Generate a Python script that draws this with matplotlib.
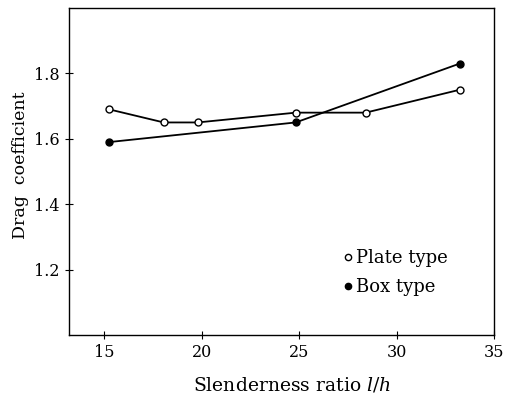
import matplotlib
matplotlib.use("Agg")
import matplotlib.pyplot as plt

plate_x = [15.26, 18.06, 19.8, 24.83, 28.42, 33.24]
plate_y = [1.69, 1.65, 1.65, 1.68, 1.68, 1.75]
box_x = [15.26, 24.83, 33.24]
box_y = [1.59, 1.65, 1.83]
xticks = [15, 20, 25, 30, 35]
yticks = [1.2, 1.4, 1.6, 1.8]

plt.rcParams['font.family'] = ['DejaVu Serif']
plt.rcParams['mathtext.fontset'] = 'dejavuserif'

fig = plt.figure(figsize=(5.07, 3.95), dpi=100)
ax = fig.add_axes([69/507, 1-335/395, (494-69)/507, (335-8)/395])

ax.plot(plate_x, plate_y, '-', color='black', lw=1.3, marker='o', ms=5,
        mfc='white', mec='black', mew=1.0, label='Plate type', zorder=3)
ax.plot(box_x, box_y, '-', color='black', lw=1.3, marker='o', ms=5,
        mfc='black', mec='black', label='Box type', zorder=3)

ax.set_xlim(13.2, 35)
ax.set_ylim(1.0, 2.0)
ax.set_xticks(xticks)
ax.set_yticks(yticks)
ax.set_yticklabels([f"{v:.1f}" for v in yticks])
ax.tick_params(direction='inout', length=6, width=0.8, labelsize=11.5)
for s in ax.spines.values():
    s.set_linewidth(1.0)

ax.set_xlabel('Slenderness ratio $l/h$', fontsize=13.5)
ax.xaxis.set_label_coords(0.525, -0.125)
ax.set_ylabel('Drag  coefficient', fontsize=12.5)
ax.yaxis.set_label_coords(-0.095, 0.52)

ax.legend(loc='center left', bbox_to_anchor=(0.635, 0.19), frameon=False,
          borderpad=0, handlelength=0, handletextpad=0.45, fontsize=13,
          labelspacing=0.6, markerscale=0.9)

fig.savefig('out.png', dpi=100)
